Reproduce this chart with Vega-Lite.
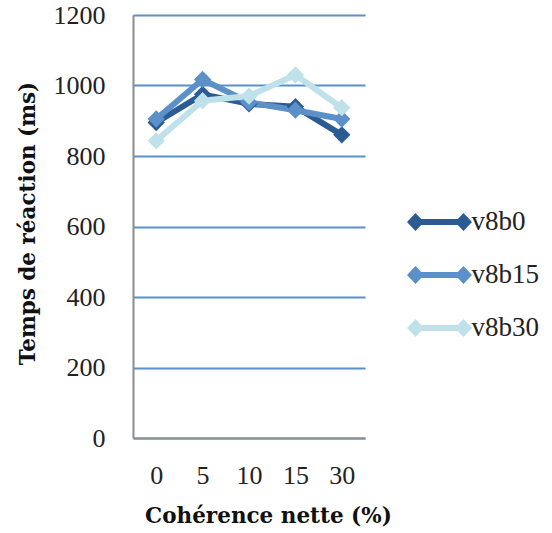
{
  "$schema": "https://vega.github.io/schema/vega-lite/v6.json",
  "width": 232,
  "height": 423,
  "autosize": "none",
  "padding": {"left": 133, "top": 15, "right": 187, "bottom": 95},
  "background": "white",
  "config": {
    "view": {"stroke": null},
    "font": "Liberation Serif"
  },
  "data": {
    "values": [
      {"coherence": "0", "series": "v8b0", "rt": 895},
      {"coherence": "5", "series": "v8b0", "rt": 975},
      {"coherence": "10", "series": "v8b0", "rt": 948},
      {"coherence": "15", "series": "v8b0", "rt": 940},
      {"coherence": "30", "series": "v8b0", "rt": 860},
      {"coherence": "0", "series": "v8b15", "rt": 905},
      {"coherence": "5", "series": "v8b15", "rt": 1017},
      {"coherence": "10", "series": "v8b15", "rt": 952},
      {"coherence": "15", "series": "v8b15", "rt": 930},
      {"coherence": "30", "series": "v8b15", "rt": 905},
      {"coherence": "0", "series": "v8b30", "rt": 843},
      {"coherence": "5", "series": "v8b30", "rt": 957},
      {"coherence": "10", "series": "v8b30", "rt": 970},
      {"coherence": "15", "series": "v8b30", "rt": 1030},
      {"coherence": "30", "series": "v8b30", "rt": 937}
    ]
  },
  "mark": {
    "type": "line",
    "strokeWidth": 6,
    "point": {"shape": "diamond", "size": 300, "filled": true, "opacity": 1}
  },
  "encoding": {
    "x": {
      "field": "coherence",
      "type": "ordinal",
      "sort": ["0", "5", "10", "15", "30"],
      "scale": {"type": "point", "padding": 0.5},
      "axis": {
        "title": "Cohérence nette (%)",
        "labelAngle": 0,
        "labelFont": "Liberation Serif",
        "labelFontSize": 26,
        "labelColor": "#222",
        "labelPadding": 24,
        "ticks": false,
        "tickSize": 0,
        "domainColor": "#8c8c8c",
        "domainWidth": 2,
        "titleFont": "DejaVu Serif",
        "titleFontSize": 21.5,
        "titleFontWeight": "bold",
        "titleColor": "#111",
        "titleX": 135,
        "titleY": 78,
        "titleAlign": "center",
        "titleBaseline": "middle",
        "grid": false
      }
    },
    "y": {
      "field": "rt",
      "type": "quantitative",
      "scale": {"domain": [0, 1200], "nice": false},
      "axis": {
        "title": "Temps de réaction (ms)",
        "values": [0, 200, 400, 600, 800, 1000, 1200],
        "format": "d",
        "labelFont": "Liberation Serif",
        "labelFontSize": 26,
        "labelColor": "#222",
        "labelPadding": 28,
        "ticks": false,
        "tickSize": 0,
        "domainColor": "#8c8c8c",
        "domainWidth": 2,
        "gridColor": "#5a8fcb",
        "gridWidth": 2,
        "gridOpacity": 1,
        "titleFont": "DejaVu Serif",
        "titleFontSize": 21.5,
        "titleFontWeight": "bold",
        "titleColor": "#111",
        "titleAngle": -90,
        "titleX": -105,
        "titleY": 208,
        "titleAlign": "center",
        "titleBaseline": "middle"
      }
    },
    "color": {
      "field": "series",
      "type": "nominal",
      "scale": {
        "domain": ["v8b0", "v8b15", "v8b30"],
        "range": ["#2b5b93", "#5b90c8", "#bfe1ea"]
      },
      "legend": {
        "title": null,
        "orient": "none",
        "legendX": 286.5,
        "legendY": 187,
        "padding": 0,
        "symbolType": "M-1.625,0L-1.2,-0.45L-0.775,0L-1.2,0.45Z M0.775,0L1.2,-0.45L1.625,0L1.2,0.45Z M-1.2,-0.15L1.2,-0.15L1.2,0.15L-1.2,0.15Z",
        "symbolSize": 1600,
        "symbolStrokeWidth": 0,
        "symbolOpacity": 1,
        "labelFont": "Liberation Serif",
        "labelFontSize": 27,
        "labelColor": "#222",
        "labelOffset": 12,
        "rowPadding": 20,
        "encode": {
          "symbols": {
            "update": {
              "fill": {"scale": "color", "field": "value"},
              "stroke": {"value": "transparent"},
              "strokeWidth": {"value": 0}
            }
          }
        }
      }
    }
  }
}
